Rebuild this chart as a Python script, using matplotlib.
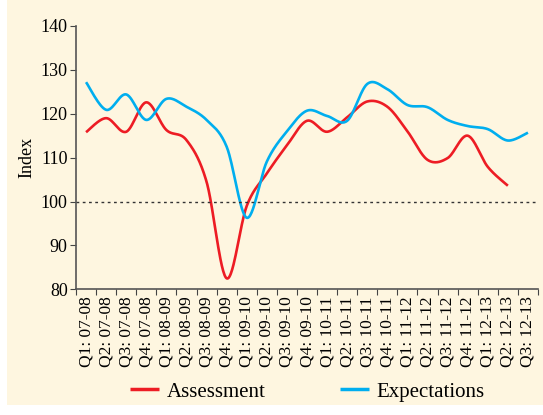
import numpy as np
import matplotlib
matplotlib.use("Agg")
import matplotlib.pyplot as plt
from matplotlib.patches import Rectangle

# ---------------------------------------------------------------------------
# Datos
# ---------------------------------------------------------------------------
quarters = [
    "Q1: 07-08", "Q2: 07-08", "Q3: 07-08", "Q4: 07-08",
    "Q1: 08-09", "Q2: 08-09", "Q3: 08-09", "Q4: 08-09",
    "Q1: 09-10", "Q2: 09-10", "Q3: 09-10", "Q4: 09-10",
    "Q1: 10-11", "Q2: 10-11", "Q3: 10-11", "Q4: 10-11",
    "Q1: 11-12", "Q2: 11-12", "Q3: 11-12", "Q4: 11-12",
    "Q1: 12-13", "Q2: 12-13", "Q3: 12-13",
]

assessment = [115.8, 119.0, 115.9, 122.6, 116.3, 114.0, 104.5, 82.5,
              99.0, 106.4, 112.8, 118.4, 115.9, 119.2, 122.8, 121.6,
              116.0, 109.5, 109.9, 115.0, 107.9, 103.6]

expectations = [127.2, 120.9, 124.4, 118.6, 123.4, 121.6, 118.6, 112.5,
                96.3, 109.1, 116.0, 120.7, 119.5, 118.4, 126.8, 125.6,
                122.0, 121.5, 118.6, 117.2, 116.5, 113.9, 115.7]

yticks = [80, 90, 100, 110, 120, 130, 140]

RED = "#ED1C24"
BLUE = "#00AEEF"
CREAM = "#FEF6E0"


def suavizar(y, n=30):
    """Curva suave tipo Excel (Bezier con tangentes de Catmull-Rom)."""
    y = np.asarray(y, dtype=float)
    x = np.arange(len(y), dtype=float)
    xs, ys = [], []
    t = np.linspace(0, 1, n)
    for i in range(len(y) - 1):
        p0 = np.array([x[max(i - 1, 0)], y[max(i - 1, 0)]])
        p1 = np.array([x[i], y[i]])
        p2 = np.array([x[i + 1], y[i + 1]])
        p3 = np.array([x[min(i + 2, len(y) - 1)], y[min(i + 2, len(y) - 1)]])
        c1 = p1 + (p2 - p0) / 6
        c2 = p2 - (p3 - p1) / 6
        pts = ((1 - t)[:, None] ** 3 * p1 + 3 * ((1 - t) ** 2 * t)[:, None] * c1
               + 3 * ((1 - t) * t ** 2)[:, None] * c2 + (t ** 3)[:, None] * p2)
        xs.append(pts[:, 0])
        ys.append(pts[:, 1])
    return np.concatenate(xs), np.concatenate(ys)


plt.rcParams["font.family"] = ["Liberation Serif", "DejaVu Serif"]

fig = plt.figure(figsize=(5.43, 4.15), dpi=100)
fig.patch.set_facecolor("white")
fig.patches.append(Rectangle((7 / 543, 10 / 415), 1, 1, transform=fig.transFigure,
                             facecolor=CREAM, edgecolor="none", zorder=-10))

ax = fig.add_axes([76 / 543, 1 - 289.3 / 415, 462 / 543, 263.3 / 415])
ax.set_facecolor(CREAM)

xa, ya = suavizar(assessment)
xe, ye = suavizar(expectations)
ax.plot(xa, ya, color=RED, lw=1.9, label="Assessment", solid_capstyle="butt")
ax.plot(xe, ye, color=BLUE, lw=1.9, label="Expectations", solid_capstyle="butt")

ax.axhline(100, color="#333333", lw=1.0, ls=(0, (2, 2.5)))

ax.set_xlim(-0.5, len(quarters) - 0.5)
ax.set_ylim(80, 140)
ax.set_yticks(yticks)
ax.set_yticklabels([str(v) for v in yticks], fontsize=13)

ax.set_xticks(np.arange(-0.5, len(quarters), 1))
ax.set_xticklabels([])
ax.set_xticks(np.arange(len(quarters)), minor=True)
ax.set_xticklabels(quarters, minor=True, rotation=90, fontsize=12.5)
ax.tick_params(axis="x", which="minor", length=0, pad=5)
ax.tick_params(axis="x", which="major", length=4, direction="out", color="#444444")
ax.tick_params(axis="y", length=4, direction="out", color="#444444", pad=2)

for s in ["top", "right"]:
    ax.spines[s].set_visible(False)
for s in ["left", "bottom"]:
    ax.spines[s].set_color("#555555")
    ax.spines[s].set_linewidth(1.2)

ax.set_ylabel("Index", fontsize=13, labelpad=4)

leg = fig.legend(loc="center", bbox_to_anchor=(0.566, 1 - 392 / 415), ncol=2,
                 frameon=False, fontsize=15, handlelength=1.4, handletextpad=0.35,
                 columnspacing=3.6)
for line in leg.get_lines():
    line.set_linewidth(2.5)

fig.savefig("out.png", dpi=100, facecolor=fig.get_facecolor())
